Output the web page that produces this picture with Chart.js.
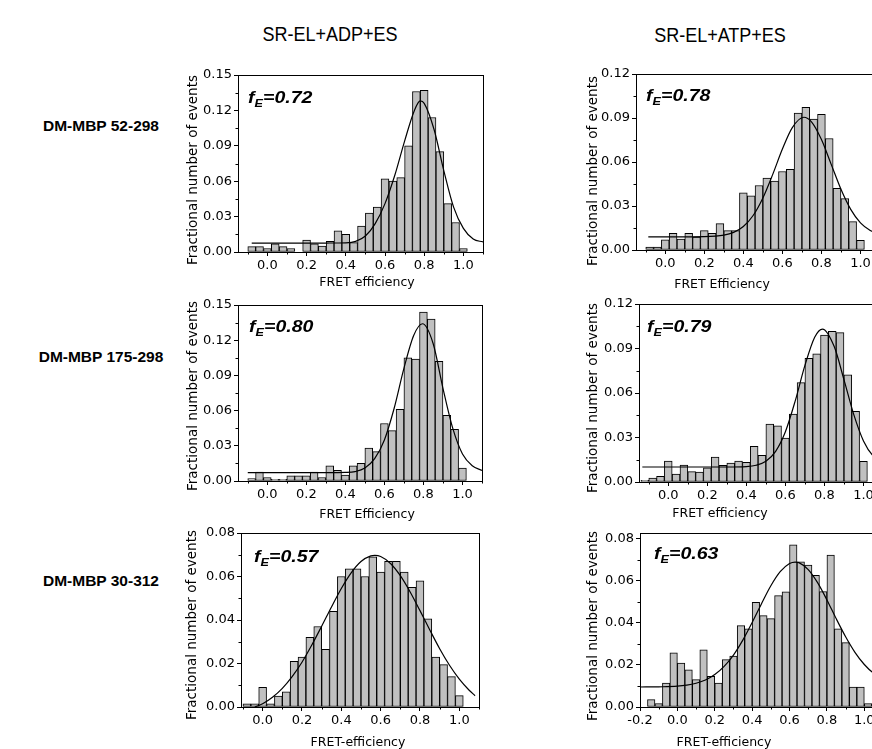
<!DOCTYPE html>
<html><head><meta charset="utf-8">
<script src="https://cdn.jsdelivr.net/npm/chart.js@4.4.1/dist/chart.umd.min.js"></script>
<style>
html,body{margin:0;padding:0;background:#fff;}
body{width:872px;height:749px;position:relative;overflow:hidden;}
.t{position:absolute;white-space:nowrap;color:#000;}
.col{font:20px/0 "Liberation Sans",Arial,sans-serif;}
.row{font:bold 15.5px/0 "Liberation Sans",Arial,sans-serif;}
.ax{font:12.5px/0 "DejaVu Sans",sans-serif;}
.ay{font:13.5px/0 "DejaVu Sans",sans-serif;}
.fe{font:italic bold 17px/0 "Liberation Sans",Arial,sans-serif;transform-origin:0 0;transform:scaleX(1.15);}
.fe span{font-size:11px;position:relative;top:4px;}
</style></head><body>
<script>
// ---------- data ----------
const binsStd = [-0.08,-0.04,0.00,0.04,0.08,0.12,0.16,0.20,0.24,0.28,0.32,0.36,0.40,0.44,0.48,0.52,0.56,0.60,0.64,0.68,0.72,0.76,0.80,0.84,0.88,0.92,0.96,1.00];
const binsAtp175 = [-0.12,-0.08,-0.04,0.00,0.04,0.08,0.12,0.16,0.20,0.24,0.28,0.32,0.36,0.40,0.44,0.48,0.52,0.56,0.60,0.64,0.68,0.72,0.76,0.80,0.84,0.88,0.92,0.96,1.00];
const binsAtp30 = [-0.14,-0.10,-0.06,-0.02,0.02,0.06,0.10,0.14,0.18,0.22,0.26,0.30,0.34,0.38,0.42,0.46,0.50,0.54,0.58,0.62,0.66,0.70,0.74,0.78,0.82,0.86,0.90,0.94,0.98,1.02];

const histAdp52 = [0.0045,0.0045,0.003,0.007,0.0045,0.003,0,0.010,0.007,0.005,0.009,0.018,0.015,0.008,0.022,0.033,0.038,0.062,0.060,0.063,0.090,0.136,0.137,0.114,0.085,0.041,0.025,0.003];
const histAtp52 = [0.0020,0.0020,0.0070,0.0114,0.0075,0.0114,0.0088,0.0132,0.0114,0.018,0.0132,0.0132,0.039,0.037,0.044,0.049,0.047,0.0535,0.055,0.0934,0.0972,0.0893,0.0925,0.076,0.042,0.035,0.0194,0.0066];
const histAdp175 = [0.002,0.0075,0.003,0.0015,0.0015,0.0045,0.0045,0.0045,0.0075,0.003,0.013,0.009,0.005,0.013,0.015,0.028,0.025,0.049,0.043,0.061,0.105,0.104,0.144,0.138,0.102,0.056,0.044,0.011];
const histAtp175 = [0.0011,0.0027,0.0038,0.0141,0.0054,0.0114,0.007,0.0067,0.0096,0.0168,0.0112,0.0128,0.0141,0.0132,0.024,0.018,0.039,0.0379,0.0296,0.0458,0.067,0.0834,0.0864,0.099,0.1016,0.1007,0.0722,0.0476,0.0139];
const histAdp30 = [0.0015,0.0015,0.009,0.0015,0.005,0.007,0.021,0.023,0.032,0.037,0.0265,0.044,0.060,0.0635,0.0635,0.060,0.069,0.062,0.067,0.067,0.062,0.055,0.058,0.0405,0.023,0.0195,0.014,0.0052];
const histAtp30 = [0.0035,0.0016,0.0114,0.0257,0.0209,0.0177,0.013,0.0272,0.0146,0.0114,0.0225,0.0242,0.0387,0.0371,0.0497,0.0434,0.042,0.0529,0.0547,0.0771,0.069,0.0675,0.0626,0.0548,0.0722,0.0371,0.0306,0.0095,0.0095,0.0016];

// fitted curves
const fitAdp52X = [-0.08,0.0,0.1,0.2,0.3,0.4,0.45,0.5,0.55,0.6,0.65,0.7,0.75,0.78,0.8,0.85,0.9,0.95,1.0,1.05,1.1];
const fitAdp52Y = [0.0075,0.0075,0.0075,0.0075,0.0076,0.0078,0.009,0.0135,0.024,0.041,0.065,0.094,0.12,0.128,0.126,0.104,0.069,0.038,0.02,0.011,0.0085];
const fitAtp52X = [-0.087,0.1,0.2,0.3,0.35,0.4,0.45,0.5,0.55,0.6,0.65,0.71,0.75,0.8,0.85,0.9,0.95,1.0,1.05,1.1];
const fitAtp52Y = [0.009,0.009,0.0091,0.0101,0.012,0.016,0.0235,0.0355,0.0514,0.0688,0.0833,0.0905,0.0872,0.0753,0.0584,0.0414,0.0277,0.0185,0.0133,0.0107];
const fitAdp175X = [-0.1,0.0,0.1,0.2,0.3,0.4,0.45,0.5,0.55,0.6,0.65,0.7,0.75,0.795,0.85,0.9,0.95,1.0,1.05,1.1];
const fitAdp175Y = [0.0071,0.0071,0.0071,0.0071,0.0071,0.0073,0.008,0.011,0.019,0.035,0.062,0.096,0.124,0.134,0.117,0.079,0.045,0.023,0.013,0.009];
const fitAtp175X = [-0.133,0.0,0.1,0.2,0.3,0.4,0.45,0.5,0.55,0.6,0.65,0.7,0.75,0.79,0.85,0.9,0.95,1.0,1.05,1.1];
const fitAtp175Y = [0.0101,0.0101,0.0101,0.0101,0.0101,0.0104,0.0113,0.014,0.0207,0.0339,0.0545,0.0786,0.0976,0.1031,0.0913,0.069,0.0456,0.0277,0.0174,0.0126];
const fitAdp30X = [-0.04,0.0,0.05,0.1,0.15,0.2,0.25,0.3,0.35,0.4,0.45,0.5,0.55,0.57,0.6,0.65,0.7,0.75,0.8,0.85,0.9,0.95,1.0,1.05,1.08];
const fitAdp30Y = [0.0,0.0015,0.0045,0.0086,0.014,0.0206,0.0285,0.0371,0.046,0.0545,0.0617,0.0669,0.0695,0.0697,0.0692,0.066,0.0604,0.0529,0.0443,0.0354,0.0268,0.0192,0.0128,0.0077,0.0052];
const fitAtp30X = [-0.2,-0.1,0.0,0.05,0.1,0.15,0.2,0.25,0.3,0.35,0.4,0.45,0.5,0.55,0.6,0.63,0.65,0.7,0.75,0.8,0.85,0.9,0.95,1.0,1.05,1.1];
const fitAtp30Y = [0.0095,0.0096,0.0099,0.0104,0.0113,0.0128,0.0154,0.0193,0.0247,0.0318,0.0402,0.0491,0.0576,0.0643,0.0682,0.0689,0.0686,0.0653,0.0591,0.0509,0.0419,0.0334,0.026,0.0202,0.016,0.0133];

// tick values
const xTicksStd = [0.0,0.2,0.4,0.6,0.8,1.0];
const xTicksWide = [-0.2,0.0,0.2,0.4,0.6,0.8,1.0];
const xMinor = [-0.1,0.1,0.3,0.5,0.7,0.9,1.1];
const yTicks15 = [0,0.03,0.06,0.09,0.12,0.15];
const yTicks12 = [0,0.03,0.06,0.09,0.12];
const yTicks08 = [0,0.02,0.04,0.06,0.08];
const yMinor15 = [0.015,0.045,0.075,0.105,0.135];
const yMinor12 = [0.015,0.045,0.075,0.105];
const yMinor08 = [0.01,0.03,0.05,0.07];

const columnTitles = ['SR-EL+ADP+ES','SR-EL+ATP+ES'];
const rowTitles = ['DM-MBP 52-298','DM-MBP 175-298','DM-MBP 30-312'];
const fEValues = ['0.72','0.78','0.80','0.79','0.57','0.63'];
const yTitle = 'Fractional number of events';
const xTitles = ['FRET efficiency','FRET Efficiency','FRET Efficiency','FRET efficiency','FRET-efficiency','FRET-efficiency'];

// ---------- layout ----------
const panels = [
  {L:238,T:75,R:483,B:252, xmin:-0.15,xmax:1.1, ymax:0.15, bins:binsStd, vals:histAdp52, fx:fitAdp52X, fy:fitAdp52Y, xt:xTicksStd, yt:yTicks15, ym:yMinor15},
  {L:636,T:74,R:880,B:250, xmin:-0.15,xmax:1.1, ymax:0.12, bins:binsStd, vals:histAtp52, fx:fitAtp52X, fy:fitAtp52Y, xt:xTicksStd, yt:yTicks12, ym:yMinor12},
  {L:238,T:305,R:482,B:481, xmin:-0.15,xmax:1.1, ymax:0.15, bins:binsStd, vals:histAdp175, fx:fitAdp175X, fy:fitAdp175Y, xt:xTicksStd, yt:yTicks15, ym:yMinor15},
  {L:639,T:304,R:883,B:482, xmin:-0.15,xmax:1.1, ymax:0.12, bins:binsAtp175, vals:histAtp175, fx:fitAtp175X, fy:fitAtp175Y, xt:xTicksStd, yt:yTicks12, ym:yMinor12},
  {L:241,T:533,R:479,B:707, xmin:-0.11,xmax:1.1, ymax:0.08, bins:binsStd, vals:histAdp30, fx:fitAdp30X, fy:fitAdp30Y, xt:xTicksStd, yt:yTicks08, ym:yMinor08},
  {L:640,T:533,R:883,B:707, xmin:-0.2,xmax:1.1, ymax:0.0827, bins:binsAtp30, vals:histAtp30, fx:fitAtp30X, fy:fitAtp30Y, xt:xTicksWide, yt:yTicks08, ym:yMinor08}
];
const fePos = [[248,104],[646,101.7],[249,333.3],[647,332.7],[254,563.3],[654,560]];
const yTitlePos = [[192,170],[592,171],[192,396],[592,398],[191,625],[592,626]];
const xTitlePos = [[367,286.5],[722,288.5],[367,518.5],[720,517.5],[358,746.5],[724,746.5]];

const TICKFONT = {family:'DejaVu Sans', size:13};

const framePlugin = {
  id:'frame',
  afterDraw(chart, args, opts){
    const {ctx, chartArea:a, scales} = chart;
    ctx.save();
    ctx.strokeStyle = '#000'; ctx.lineWidth = 1;
    ctx.strokeRect(Math.round(a.left)+0.5, Math.round(a.top)+0.5, Math.round(a.right-a.left), Math.round(a.bottom-a.top));
    ctx.beginPath();
    (opts.xm||[]).forEach(v=>{
      if (v < scales.x.min || v > scales.x.max) return;
      const px = Math.round(scales.x.getPixelForValue(v))+0.5;
      ctx.moveTo(px, a.bottom); ctx.lineTo(px, a.bottom+2.5);
    });
    (opts.ym||[]).forEach(v=>{
      const py = Math.round(scales.y.getPixelForValue(v))+0.5;
      ctx.moveTo(a.left, py); ctx.lineTo(a.left-2.5, py);
    });
    ctx.stroke();
    ctx.restore();
  }
};

function makePanel(p){
  const padL=50, padT=10, padR=10, padB=30;
  const w=(p.R-p.L)+padL+padR, h=(p.B-p.T)+padT+padB;
  const div=document.createElement('div');
  div.style.cssText=`position:absolute;left:${p.L-padL}px;top:${p.T-padT}px;width:${w}px;height:${h}px;`;
  const cv=document.createElement('canvas');
  cv.width=w; cv.height=h; cv.style.width=w+'px'; cv.style.height=h+'px';
  div.appendChild(cv); document.body.appendChild(div);
  new Chart(cv,{
    type:'bar',
    data:{datasets:[
      {type:'bar', data:p.bins.map((x,i)=>({x:x,y:p.vals[i]})), backgroundColor:'#c0c0c0', borderColor:'#000', borderWidth:1, borderSkipped:false, barPercentage:1, categoryPercentage:1, grouped:false, order:2},
      {type:'line', data:p.fx.map((x,i)=>({x:x,y:p.fy[i]})), borderColor:'#000', borderWidth:1.2, pointRadius:0, fill:false, cubicInterpolationMode:'monotone', order:1}
    ]},
    options:{
      responsive:false, animation:false, devicePixelRatio:1,
      layout:{padding:{left:0,top:padT,right:padR,bottom:0}},
      plugins:{legend:{display:false}, tooltip:{enabled:false}, frame:{xm:xMinor, ym:p.ym}},
      scales:{
        x:{type:'linear', min:p.xmin, max:p.xmax, offset:false,
          grid:{drawOnChartArea:false, drawTicks:true, tickLength:4, color:'#000', offset:false},
          border:{display:true, color:'#000', width:1},
          ticks:{font:TICKFONT, color:'#000', padding:2, maxRotation:0, autoSkip:false, callback:v=>Number(v).toFixed(1)},
          afterBuildTicks:s=>{s.ticks=p.xt.map(v=>({value:v}));},
          afterFit:s=>{s.height=padB;}
        },
        y:{type:'linear', min:0, max:p.ymax,
          grid:{drawOnChartArea:false, drawTicks:true, tickLength:4, color:'#000'},
          border:{display:true, color:'#000', width:1},
          ticks:{font:TICKFONT, color:'#000', padding:2, autoSkip:false, callback:v=>Number(v).toFixed(2)},
          afterBuildTicks:s=>{s.ticks=p.yt.map(v=>({value:v}));},
          afterFit:s=>{s.width=padL;}
        }
      }
    },
    plugins:[framePlugin]
  });
}

function addText(html, cls, x, baseline, fontPx, center, extra){
  const d=document.createElement('div');
  d.className='t '+cls;
  d.innerHTML=html;
  d.style.left=x+'px';
  d.style.top=(baseline-0.3465*fontPx)+'px';
  if(center) d.style.transform='translateX(-50%)' + (extra||'');
  document.body.appendChild(d);
  return d;
}

panels.forEach(makePanel);

addText(columnTitles[0],'col',330,41,20,true,' scaleX(0.9)');
addText(columnTitles[1],'col',720,42,20,true,' scaleX(0.9)');
addText(rowTitles[0],'row',101,131.6,15.5,true);
addText(rowTitles[1],'row',101,362.6,15.5,true);
addText(rowTitles[2],'row',101,586.6,15.5,true);

fePos.forEach((pp,i)=>{
  addText('f<span>E</span>=' + fEValues[i],'fe',pp[0],pp[1],17,false);
});
xTitlePos.forEach((pp,i)=>{ addText(xTitles[i],'ax',pp[0],pp[1],12.5,true); });
yTitlePos.forEach(pp=>{
  const d=document.createElement('div');
  d.className='t ay';
  d.textContent=yTitle;
  d.style.left=pp[0]+'px';
  d.style.top=pp[1]+'px';
  d.style.transform='translateX(-50%) rotate(-90deg)';
  document.body.appendChild(d);
});
</script>
</body></html>
